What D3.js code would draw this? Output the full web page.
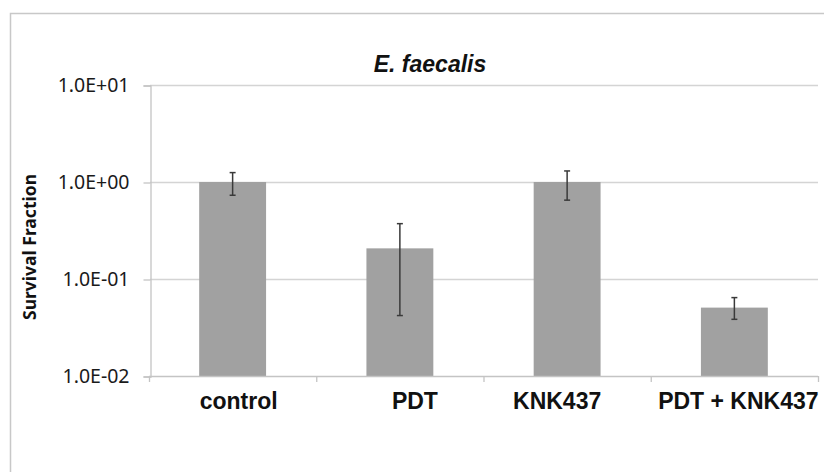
<!DOCTYPE html>
<html>
<head>
<meta charset="utf-8">
<script src="https://cdn.jsdelivr.net/npm/d3@7"></script>
<style>
  body { margin: 0; background: #fff; }
  svg { display: block; }
</style>
</head>
<body>
<svg></svg>
<script>
// data
const categories = ['control', 'PDT', 'KNK437', 'PDT + KNK437'];
const survival = [1.0, 0.207, 1.0, 0.0507];
const errLow = [0.73, 0.042, 0.65, 0.0384];
const errHigh = [1.25, 0.372, 1.30, 0.0643];
const yTicks = [0.01, 0.1, 1, 10];
const yTickLabels = ['1.0E-02', '1.0E-01', '1.0E+00', '1.0E+01'];

// small nudges so the category labels sit where Excel put them
const labelShift = [6, 15, -10, 4];

const width = 824
const height = 472

const svg = d3.select('svg').attr('width', width).attr('height', height)

// chart frame
svg.append('rect')
    .attr('x', 10.5).attr('y', 13.5)
    .attr('width', 830).attr('height', 480)
    .attr('fill', 'none')
    .attr('stroke', '#c8c8c8')
    .attr('stroke-width', 1.5)

const x = d3.scaleBand()
    .domain(categories)
    .range([149, 818])
    .paddingInner(0.6)
    .paddingOuter(0.3)

const y = d3.scaleLog()
    .domain([0.01, 10])
    .range([376, 85])

// gridlines
svg.append('g')
    .selectAll('line')
    .data(yTicks.slice(1))
    .join('line')
        .attr('x1', 150).attr('x2', 818)
        .attr('y1', d => y(d) + 0.5).attr('y2', d => y(d) + 0.5)
        .attr('stroke', '#d4d4d4')
        .attr('stroke-width', 1.3)

// y axis
const yAxis = d3.axisLeft(y)
    .tickValues(yTicks)
    .tickFormat((d, i) => yTickLabels[i])
    .tickSize(7)
    .tickPadding(14)

const gy = svg.append('g')
    .attr('transform', 'translate(150.5,0.5)')
    .call(yAxis)
gy.select('.domain').attr('stroke', '#c4c4c4').attr('stroke-width', 1.3)
gy.selectAll('.tick line').attr('stroke', '#c4c4c4').attr('stroke-width', 1.3)
gy.selectAll('.tick text')
    .attr('font-family', '"Noto Sans", sans-serif')
    .attr('font-size', 19.5)
    .attr('fill', '#1a1a1a')

// bars
svg.append('g')
    .selectAll('rect')
    .data(categories)
    .join('rect')
        .attr('x', d => x(d))
        .attr('y', (d, i) => y(survival[i]))
        .attr('width', x.bandwidth())
        .attr('height', (d, i) => y(0.01) - y(survival[i]))
        .attr('fill', '#a1a1a1')

// x axis line and separators
const xTickPos = categories.map(d => x(d) - x.step() * x.paddingInner() / 2)
xTickPos.push(818)
xTickPos[0] = 149

svg.append('line')
    .attr('x1', 149).attr('x2', 818)
    .attr('y1', 376.5).attr('y2', 376.5)
    .attr('stroke', '#c4c4c4')
    .attr('stroke-width', 1.3)

svg.append('g')
    .selectAll('line')
    .data(xTickPos)
    .join('line')
        .attr('x1', d => d + 0.5).attr('x2', d => d + 0.5)
        .attr('y1', 376).attr('y2', 382)
        .attr('stroke', '#c4c4c4')
        .attr('stroke-width', 1.3)

// error bars
const err = svg.append('g')
    .attr('stroke', '#3a3a3a')
    .attr('stroke-width', 1.5)

categories.forEach((c, i) => {
    const cx = x(c) + x.bandwidth() / 2
    err.append('line')
        .attr('x1', cx).attr('x2', cx)
        .attr('y1', y(errHigh[i])).attr('y2', y(errLow[i]))
    err.append('line')
        .attr('x1', cx - 3).attr('x2', cx + 3)
        .attr('y1', y(errHigh[i])).attr('y2', y(errHigh[i]))
    err.append('line')
        .attr('x1', cx - 3).attr('x2', cx + 3)
        .attr('y1', y(errLow[i])).attr('y2', y(errLow[i]))
})

// category labels
svg.append('g')
    .selectAll('text')
    .data(categories)
    .join('text')
        .attr('x', (d, i) => x(d) + x.bandwidth() / 2 + labelShift[i])
        .attr('y', 409)
        .attr('text-anchor', 'middle')
        .attr('font-family', '"Liberation Sans", Arial, sans-serif')
        .attr('font-weight', 'bold')
        .attr('font-size', 23)
        .attr('fill', '#111')
        .text(d => d)

// title
svg.append('text')
    .attr('x', 430)
    .attr('y', 72)
    .attr('text-anchor', 'middle')
    .attr('font-family', '"Liberation Sans", Arial, sans-serif')
    .attr('font-weight', 'bold')
    .attr('font-style', 'italic')
    .attr('font-size', 23)
    .attr('fill', '#111')
    .text('E. faecalis')

// y axis title
svg.append('text')
    .attr('transform', 'translate(36,247) rotate(-90)')
    .attr('text-anchor', 'middle')
    .attr('font-family', '"Noto Sans", sans-serif')
    .attr('font-weight', 'bold')
    .attr('font-size', 17.5)
    .attr('fill', '#111')
    .text('Survival Fraction')
</script>
</body>
</html>
